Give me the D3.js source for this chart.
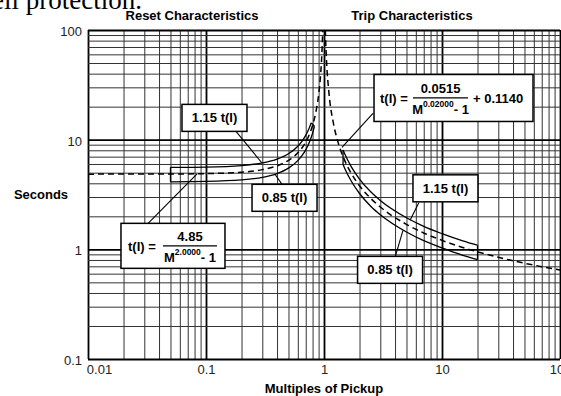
<!DOCTYPE html>
<html>
<head>
<meta charset="utf-8">
<script src="https://cdn.jsdelivr.net/npm/d3@7"></script>
<style>
  body { margin: 0; background: #fff; }
  svg { display: block; font-family: "Liberation Sans", Arial, sans-serif; }
</style>
</head>
<body>
<script>
// axis ticks
const pickupTicks = [0.01, 0.1, 1, 10, 100];
const pickupLabels = ["0.01", "0.1", "1", "10", "100"];
const secondTicks = [0.1, 1, 10, 100];
const secondLabels = ["0.1", "1", "10", "100"];

// reset curve (dashed)
const resetM = [0.01, 0.05, 0.1, 0.2, 0.3, 0.4, 0.5, 0.6, 0.65, 0.7, 0.75, 0.8, 0.85, 0.88, 0.9, 0.92, 0.94, 0.95, 0.96, 0.97, 0.9755];
const resetT = [4.85, 4.86, 4.9, 5.05, 5.33, 5.77, 6.47, 7.58, 8.4, 9.51, 11.09, 13.47, 17.5, 21.5, 25.5, 31.6, 41.7, 49.7, 61.9, 82.1, 100];
// reset band 1.15 t(I) / 0.85 t(I)
const resetHiM = [0.05, 0.1, 0.2, 0.3, 0.4, 0.5, 0.6, 0.65, 0.7, 0.75, 0.78];
const resetHiT = [5.59, 5.63, 5.81, 6.13, 6.64, 7.44, 8.72, 9.66, 10.94, 12.75, 14.24];
const resetLoM = [0.05, 0.1, 0.2, 0.3, 0.4, 0.5, 0.6, 0.65, 0.7, 0.75, 0.8, 0.83];
const resetLoT = [4.13, 4.16, 4.29, 4.53, 4.91, 5.5, 6.44, 7.14, 8.08, 9.42, 11.45, 13.25];

// trip curve (dashed)
const tripM = [1.026, 1.03, 1.05, 1.1, 1.2, 1.3, 1.5, 1.7, 2, 2.5, 3, 5, 7, 10, 15, 20, 30, 50, 70, 100];
const tripT = [100, 87.2, 52.9, 27.1, 14.21, 9.9, 6.44, 4.94, 3.8, 2.9, 2.43, 1.69, 1.41, 1.207, 1.039, 0.948, 0.846, 0.747, 0.695, 0.648];
// trip band
const tripBandM = [1.45, 1.5, 1.7, 2, 2.5, 3, 5, 7, 10, 15, 20];
const tripHiT = [8.07, 7.41, 5.68, 4.37, 3.33, 2.79, 1.94, 1.62, 1.39, 1.195, 1.09];
const tripLoT = [5.97, 5.47, 4.2, 3.23, 2.46, 2.07, 1.44, 1.2, 1.03, 0.883, 0.806];

// callouts: box centre, leader start, leader end (data coords)
const callouts = [
  { label: "1.15 t(I)", box: [0.118, 15.8], from: [0.1795, 11.9], to: [0.298, 6.13] },
  { label: "0.85 t(I)", box: [0.463, 2.95], from: [0.441, 3.91], to: [0.384, 4.84] },
  { label: "1.15 t(I)", box: [10.7, 3.6], from: [6.38, 2.68], to: [5.36, 1.84] },
  { label: "0.85 t(I)", box: [3.63, 0.65], from: [4.0, 0.846], to: [4.67, 1.49] }
];
const formulas = [
  { num: "4.85", exp: "2.0000", add: null, box: [0.0525, 1.076], from: [0.0323, 1.726], to: [0.084, 4.88] },
  { num: "0.0515", exp: "0.02000", add: "+ 0.1140", box: [12.52, 24.0], from: [2.6, 17.37], to: [1.42, 8.5] }
];

const W = 561, H = 396;
const svg = d3.select("body").append("svg").attr("width", W).attr("height", H);

const x = d3.scaleLog().domain([0.01, 100]).range([88, 560]);
const y = d3.scaleLog().domain([0.1, 100]).range([359, 30]);

// clipped line of document text above the chart
svg.append("text")
  .attr("x", 142).attr("y", 9)
  .attr("text-anchor", "end")
  .style("font-family", "'Liberation Serif', 'Times New Roman', serif")
  .style("font-size", "27px")
  .text("cell protection.");

// grid
const decadeVals = (lo, hi) => {
  let v = [];
  for (let d = lo; d < hi; d++)
    for (let k = 1; k <= 9; k++) v.push(+(k * Math.pow(10, d)).toPrecision(3));
  v.push(Math.pow(10, hi));
  return v;
};
const isMajor = d => Math.abs(Math.log10(d) - Math.round(Math.log10(d))) < 1e-9;

const gridX = svg.append("g")
  .attr("transform", "translate(0,359)")
  .call(d3.axisBottom(x).tickValues(decadeVals(-2, 2)).tickSize(-(359 - 30)).tickFormat(""));
const gridY = svg.append("g")
  .attr("transform", "translate(88,0)")
  .call(d3.axisLeft(y).tickValues(decadeVals(-1, 2)).tickSize(-(560 - 88)).tickFormat(""));
[gridX, gridY].forEach(g => {
  g.select(".domain").remove();
  g.selectAll(".tick line")
    .attr("stroke", d => isMajor(d) ? "#000" : "#333")
    .attr("stroke-width", d => isMajor(d) ? 1.8 : 1);
});

// tick labels
const axX = svg.append("g")
  .attr("transform", "translate(0,359)")
  .call(d3.axisBottom(x).tickValues(pickupTicks).tickFormat((d, i) => pickupLabels[i]).tickSize(0).tickPadding(6));
axX.select(".domain").remove();
axX.selectAll("text")
  .attr("dx", d => d === 0.01 ? 11 : 0)
  .style("font-size", "13px").attr("fill", "#222");

const axY = svg.append("g")
  .attr("transform", "translate(88,0)")
  .call(d3.axisLeft(y).tickValues(secondTicks).tickFormat((d, i) => secondLabels[i]).tickSize(0).tickPadding(6));
axY.select(".domain").remove();
axY.selectAll("text").attr("dy", "0.42em").style("font-size", "13px").attr("fill", "#222");

// titles
const bold = (sel, size) => sel.style("font-weight", "bold").style("font-size", size + "px");
bold(svg.append("text").attr("x", 192).attr("y", 20).attr("text-anchor", "middle").text("Reset Characteristics"), 13);
bold(svg.append("text").attr("x", 412).attr("y", 20).attr("text-anchor", "middle").text("Trip Characteristics"), 13);
bold(svg.append("text").attr("x", 41).attr("y", 199).attr("text-anchor", "middle").text("Seconds"), 13);
bold(svg.append("text").attr("x", x(1)).attr("y", 393).attr("text-anchor", "middle").text("Multiples of Pickup"), 13);

// curves
const line = d3.line().x(d => x(d[0])).y(d => y(d[1])).curve(d3.curveMonotoneX);
const zip = (a, b) => a.map((v, i) => [v, b[i]]);

const drawBand = (hi, lo) => {
  svg.append("path").attr("d", line(hi)).attr("fill", "none").attr("stroke", "#000").attr("stroke-width", 1.3);
  svg.append("path").attr("d", line(lo)).attr("fill", "none").attr("stroke", "#000").attr("stroke-width", 1.3);
  [[hi[0], lo[0]], [hi[hi.length - 1], lo[lo.length - 1]]].forEach(p => {
    svg.append("line")
      .attr("x1", x(p[0][0])).attr("y1", y(p[0][1]))
      .attr("x2", x(p[1][0])).attr("y2", y(p[1][1]))
      .attr("stroke", "#000").attr("stroke-width", 1.3);
  });
};
drawBand(zip(resetHiM, resetHiT), zip(resetLoM, resetLoT));
drawBand(zip(tripBandM, tripHiT), zip(tripBandM, tripLoT));

[zip(resetM, resetT), zip(tripM, tripT)].forEach(pts => {
  svg.append("path").attr("d", line(pts))
    .attr("fill", "none").attr("stroke", "#000")
    .attr("stroke-width", 1.5).attr("stroke-dasharray", "6,4");
});

// leaders
callouts.concat(formulas).forEach(c => {
  svg.append("line")
    .attr("x1", x(c.from[0])).attr("y1", y(c.from[1]))
    .attr("x2", x(c.to[0])).attr("y2", y(c.to[1]))
    .attr("stroke", "#000").attr("stroke-width", 1.1);
});

// small callout boxes
callouts.forEach(c => {
  const cx = x(c.box[0]), cy = y(c.box[1]), bw = 65, bh = 27;
  svg.append("rect")
    .attr("x", cx - bw / 2).attr("y", cy - bh / 2)
    .attr("width", bw).attr("height", bh)
    .attr("fill", "#fff").attr("stroke", "#000").attr("stroke-width", 1.5);
  bold(svg.append("text").attr("x", cx).attr("y", cy + 4.5).attr("text-anchor", "middle").text(c.label), 13);
});

// formula boxes
formulas.forEach(f => {
  const cx = x(f.box[0]), cy = y(f.box[1]);
  const bw = f.add ? 159 : 104, bh = f.add ? 47 : 45;
  const left = cx - bw / 2, top = cy - bh / 2;
  svg.append("rect")
    .attr("x", left).attr("y", top).attr("width", bw).attr("height", bh)
    .attr("fill", "#fff").attr("stroke", "#000").attr("stroke-width", 1.5);
  const fx0 = left + (f.add ? 39 : 42), fx1 = left + (f.add ? 94 : 96), fm = (fx0 + fx1) / 2;
  const mid = top + bh / 2;
  bold(svg.append("text").attr("x", left + (f.add ? 6 : 7)).attr("y", mid + 5).text("t(I) ="), 13);
  bold(svg.append("text").attr("x", fm).attr("y", mid - 5).attr("text-anchor", "middle").text(f.num), 13);
  svg.append("line").attr("x1", fx0).attr("x2", fx1).attr("y1", mid).attr("y2", mid)
    .attr("stroke", "#000").attr("stroke-width", 1.3);
  const den = bold(svg.append("text").attr("x", fm).attr("y", mid + 16).attr("text-anchor", "middle"), 13);
  den.append("tspan").text("M");
  den.append("tspan").attr("dy", -7).style("font-size", "8.5px").text(f.exp);
  den.append("tspan").attr("dy", 7).text("- 1");
  if (f.add) bold(svg.append("text").attr("x", fx1 + 5).attr("y", mid + 5).text(f.add), 13);
});
</script>
</body>
</html>
